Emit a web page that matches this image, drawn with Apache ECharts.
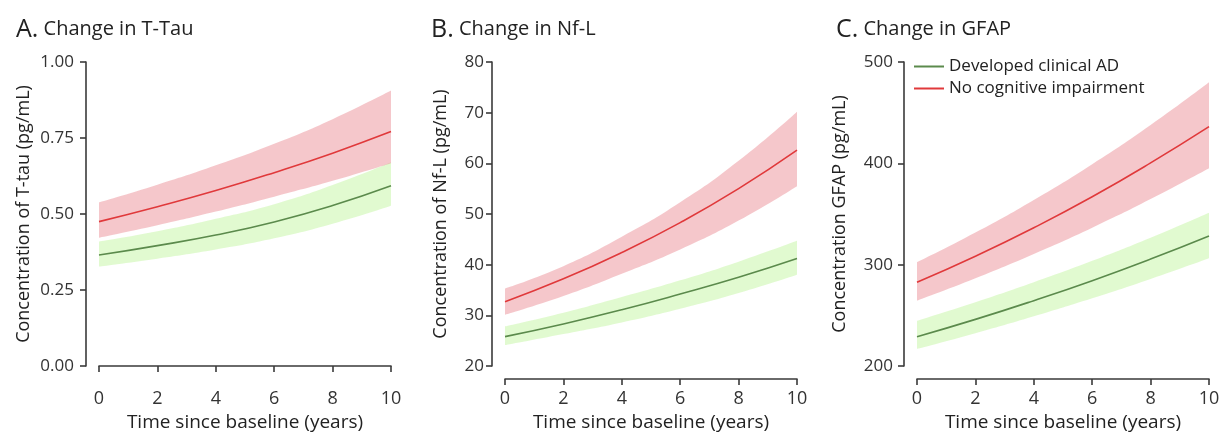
<!DOCTYPE html>
<html>
<head>
<meta charset="utf-8">
<script src="https://cdn.jsdelivr.net/npm/echarts@6/dist/echarts.min.js"></script>
<style>
html, body { margin: 0; padding: 0; background: #fff; }
#chart-panel { width: 1228px; height: 435px; }
</style>
</head>
<body>
<div id="chart-panel"></div>
<script>
var years = ['0', '2', '4', '6', '8', '10'];

// A. T-tau
var tauAD = [0.365, 0.396, 0.431, 0.474, 0.528, 0.593];
var tauADLow = [0.327, 0.353, 0.383, 0.420, 0.468, 0.527];
var tauADHigh = [0.409, 0.443, 0.484, 0.532, 0.595, 0.670];
var tauNCI = [0.475, 0.524, 0.577, 0.636, 0.700, 0.771];
var tauNCILow = [0.422, 0.463, 0.508, 0.557, 0.609, 0.667];
var tauNCIHigh = [0.538, 0.596, 0.660, 0.731, 0.812, 0.906];

// B. Nf-L
var nflAD = [25.8, 28.3, 31.1, 34.2, 37.5, 41.2];
var nflADLow = [24.1, 26.3, 28.6, 31.3, 34.4, 38.0];
var nflADHigh = [27.8, 30.5, 33.6, 36.9, 40.6, 44.7];
var nflNCI = [32.7, 37.2, 42.4, 48.3, 55.0, 62.6];
var nflNCILow = [30.1, 33.8, 38.2, 43.0, 48.7, 55.5];
var nflNCIHigh = [35.3, 39.7, 45.5, 52.3, 60.5, 70.2];

// C. GFAP
var gfapAD = [228.9, 246.0, 264.5, 284.2, 305.5, 328.3];
var gfapADLow = [216.8, 232.3, 249.0, 266.8, 285.9, 306.3];
var gfapADHigh = [244.7, 263.0, 282.7, 303.8, 326.6, 351.3];
var gfapNCI = [282.6, 308.3, 336.4, 367.0, 400.4, 436.2];
var gfapNCILow = [264.5, 286.6, 310.6, 336.5, 364.7, 395.2];
var gfapNCIHigh = [302.4, 331.7, 363.9, 399.2, 437.9, 480.1];

var groupAD = 'Developed clinical AD';
var groupNCI = 'No cognitive impairment';

var lineAD = '#5b8a4c';
var lineNCI = '#e0393b';
var bandAD = 'rgba(200, 245, 170, 0.55)';
var bandNCI = 'rgba(232, 130, 140, 0.45)';

var font = 'Open Sans';
var axisColor = '#3a3a3a';

var panels = [
    { left: 99, ymin: 0, ymax: 1, step: 0.25, digits: 2, nameGap: 53, labelMargin: 12,
      yname: 'Concentration of T-tau (pg/mL)',
      ad: tauAD, adLow: tauADLow, adHigh: tauADHigh, nci: tauNCI, nciLow: tauNCILow, nciHigh: tauNCIHigh },
    { left: 505, ymin: 20, ymax: 80, step: 10, digits: 0, nameGap: 42, labelMargin: 8,
      yname: 'Concentration of Nf-L (pg/mL)',
      ad: nflAD, adLow: nflADLow, adHigh: nflADHigh, nci: nflNCI, nciLow: nflNCILow, nciHigh: nflNCIHigh },
    { left: 917, ymin: 200, ymax: 500, step: 100, digits: 0, nameGap: 55, labelMargin: 11,
      yname: 'Concentration GFAP (pg/mL)',
      ad: gfapAD, adLow: gfapADLow, adHigh: gfapADHigh, nci: gfapNCI, nciLow: gfapNCILow, nciHigh: gfapNCIHigh }
];

function diff(hi, lo) {
    return hi.map(function (v, i) { return +(v - lo[i]).toFixed(4); });
}

var grids = [], xAxes = [], yAxes = [], series = [];

panels.forEach(function (p, k) {
    grids.push({ left: p.left, top: 62, width: 292, height: 304, outerBoundsMode: 'none', containLabel: false });
    xAxes.push({
        type: 'category', gridIndex: k, data: years, boundaryGap: false,
        offset: 13,
        name: 'Time since baseline (years)', nameLocation: 'middle', nameGap: 34,
        nameMoveOverlap: false,
        nameTextStyle: { fontFamily: font, fontSize: 19, color: '#222' },
        axisLine: { lineStyle: { color: axisColor, width: 1.6 } },
        axisTick: { length: 6, interval: 0, lineStyle: { color: axisColor, width: 1.6 } },
        axisLabel: { interval: 0, fontFamily: font, fontSize: 18, color: '#333', margin: 11 }
    });
    yAxes.push({
        type: 'value', gridIndex: k, min: p.ymin, max: p.ymax, interval: p.step,
        offset: 13,
        name: p.yname, nameLocation: 'middle', nameGap: p.nameGap,
        nameMoveOverlap: false,
        nameTextStyle: { fontFamily: font, fontSize: 18, color: '#222' },
        axisLine: { show: true, lineStyle: { color: axisColor, width: 1.6 } },
        axisTick: { show: true, length: 6, lineStyle: { color: axisColor, width: 1.6 } },
        splitLine: { show: false },
        axisLabel: {
            fontFamily: font, fontSize: 17, color: '#333', margin: p.labelMargin,
            formatter: function (v) { return v.toFixed(p.digits); }
        }
    });

    // confidence bands: invisible lower edge + stacked width
    [['AD', p.adLow, p.adHigh, bandAD], ['NCI', p.nciLow, p.nciHigh, bandNCI]].forEach(function (b) {
        series.push({
            type: 'line', xAxisIndex: k, yAxisIndex: k, stack: 'band' + b[0] + k,
            data: b[1], smooth: true, symbol: 'none', silent: true,
            lineStyle: { opacity: 0 }, z: 1
        });
        series.push({
            type: 'line', xAxisIndex: k, yAxisIndex: k, stack: 'band' + b[0] + k,
            data: diff(b[2], b[1]), smooth: true, symbol: 'none', silent: true,
            lineStyle: { opacity: 0 }, areaStyle: { color: b[3], opacity: 1 }, z: 1
        });
    });

    series.push({
        name: groupAD, type: 'line', xAxisIndex: k, yAxisIndex: k,
        data: p.ad, smooth: true, symbol: 'none',
        lineStyle: { color: lineAD, width: 1.6 }, itemStyle: { color: lineAD }, z: 3
    });
    series.push({
        name: groupNCI, type: 'line', xAxisIndex: k, yAxisIndex: k,
        data: p.nci, smooth: true, symbol: 'none',
        lineStyle: { color: lineNCI, width: 1.6 }, itemStyle: { color: lineNCI }, z: 3
    });
});

function panelTitle(letter, text, left) {
    return {
        left: left, top: 12,
        text: '{l|' + letter + '}{t| ' + text + '}',
        textStyle: {
            fontWeight: 'normal',
            rich: {
                l: { fontFamily: font, fontSize: 25, fontWeight: 'normal', color: '#222' },
                t: { fontFamily: font, fontSize: 20, fontWeight: 'normal', color: '#222' }
            }
        }
    };
}

var myChart = echarts.init(document.getElementById('chart-panel'));

myChart.setOption({
    backgroundColor: '#fff',
    animation: false,
    textStyle: { fontFamily: font, fontSize: 16, color: '#333' },
    title: [
        panelTitle('A.', 'Change in T-Tau', 11),
        panelTitle('B.', 'Change in Nf-L', 426),
        panelTitle('C.', 'Change in GFAP', 831)
    ],
    legend: {
        orient: 'vertical', left: 909, top: 53,
        itemWidth: 30, itemHeight: 2, itemGap: 5,
        icon: 'rect',
        data: [groupAD, groupNCI],
        textStyle: { fontFamily: font, fontSize: 17, color: '#222' }
    },
    grid: grids,
    xAxis: xAxes,
    yAxis: yAxes,
    series: series
});
</script>
</body>
</html>
